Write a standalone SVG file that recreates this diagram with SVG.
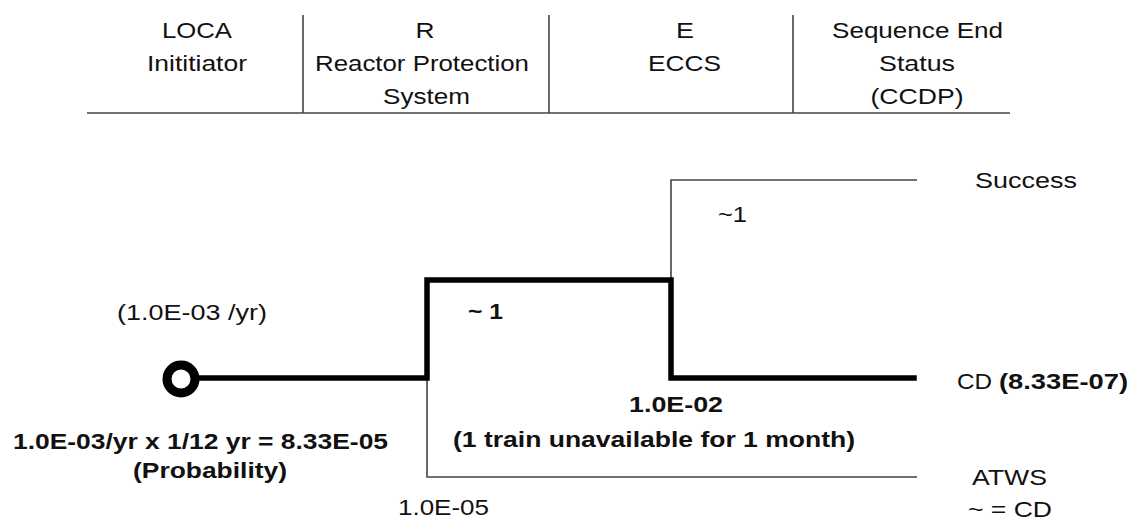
<svg xmlns="http://www.w3.org/2000/svg" width="1132" height="520" viewBox="0 0 1132 520">
<style>
text{font-family:"Liberation Sans",Arial,sans-serif;font-size:22px;fill:#111}
.b{font-weight:bold}
.thin{stroke:#444;stroke-width:1.6;fill:none}
.thick{stroke:#000;stroke-width:5.5;fill:none;stroke-linejoin:miter;stroke-linecap:square}
</style>
<rect width="1132" height="520" fill="#fff"/>
<g id="header">
<line class="thin" x1="87" y1="113" x2="1010" y2="113"/>
<line class="thin" x1="303" y1="15" x2="303" y2="113"/>
<line class="thin" x1="549" y1="15" x2="549" y2="113"/>
<line class="thin" x1="793" y1="15" x2="793" y2="113"/>
<text x="162" y="38" textLength="70" lengthAdjust="spacingAndGlyphs">LOCA</text>
<text x="147" y="71" textLength="100" lengthAdjust="spacingAndGlyphs">Inititiator</text>
<text x="415.5" y="38" textLength="19" lengthAdjust="spacingAndGlyphs">R</text>
<text x="315" y="71" textLength="214" lengthAdjust="spacingAndGlyphs">Reactor Protection</text>
<text x="383" y="104" textLength="87" lengthAdjust="spacingAndGlyphs">System</text>
<text x="676" y="38" textLength="18" lengthAdjust="spacingAndGlyphs">E</text>
<text x="648" y="71" textLength="73" lengthAdjust="spacingAndGlyphs">ECCS</text>
<text x="832" y="38" textLength="171" lengthAdjust="spacingAndGlyphs">Sequence End</text>
<text x="879" y="71" textLength="76" lengthAdjust="spacingAndGlyphs">Status</text>
<text x="870.5" y="104" textLength="93" lengthAdjust="spacingAndGlyphs">(CCDP)</text>
</g>
<g id="connectors">
<polyline class="thin" points="427,378 427,477 917,477"/>
<polyline class="thin" points="671,280 671,180 917,180"/>
<polyline class="thick" points="199,378 427,378 427,280 671,280 671,378 914,378"/>
</g>
<g id="initiator">
<circle cx="181" cy="379" r="14" fill="#fff" stroke="#000" stroke-width="9"/>
<text x="117" y="320" textLength="150" lengthAdjust="spacingAndGlyphs">(1.0E-03 /yr)</text>
<text class="b" x="13" y="449" textLength="375" lengthAdjust="spacingAndGlyphs">1.0E-03/yr x 1/12 yr = 8.33E-05</text>
<text class="b" x="133" y="478" textLength="154" lengthAdjust="spacingAndGlyphs">(Probability)</text>
</g>
<g id="branch-labels">
<text class="b" x="468" y="319" textLength="35" lengthAdjust="spacingAndGlyphs">~ 1</text>
<text x="718" y="222" textLength="29" lengthAdjust="spacingAndGlyphs">~1</text>
<text class="b" x="629" y="412" textLength="94" lengthAdjust="spacingAndGlyphs">1.0E-02</text>
<text class="b" x="453" y="447" textLength="402" lengthAdjust="spacingAndGlyphs">(1 train unavailable for 1 month)</text>
<text x="398" y="515" textLength="91" lengthAdjust="spacingAndGlyphs">1.0E-05</text>
</g>
<g id="end-states">
<text x="975" y="188" textLength="102" lengthAdjust="spacingAndGlyphs">Success</text>
<text x="957" y="389" textLength="35" lengthAdjust="spacingAndGlyphs">CD</text>
<text class="b" x="999" y="389" textLength="129" lengthAdjust="spacingAndGlyphs">(8.33E-07)</text>
<text x="972" y="485" textLength="75" lengthAdjust="spacingAndGlyphs">ATWS</text>
<text x="968" y="517" textLength="84" lengthAdjust="spacingAndGlyphs">~ = CD</text>
</g>
</svg>
